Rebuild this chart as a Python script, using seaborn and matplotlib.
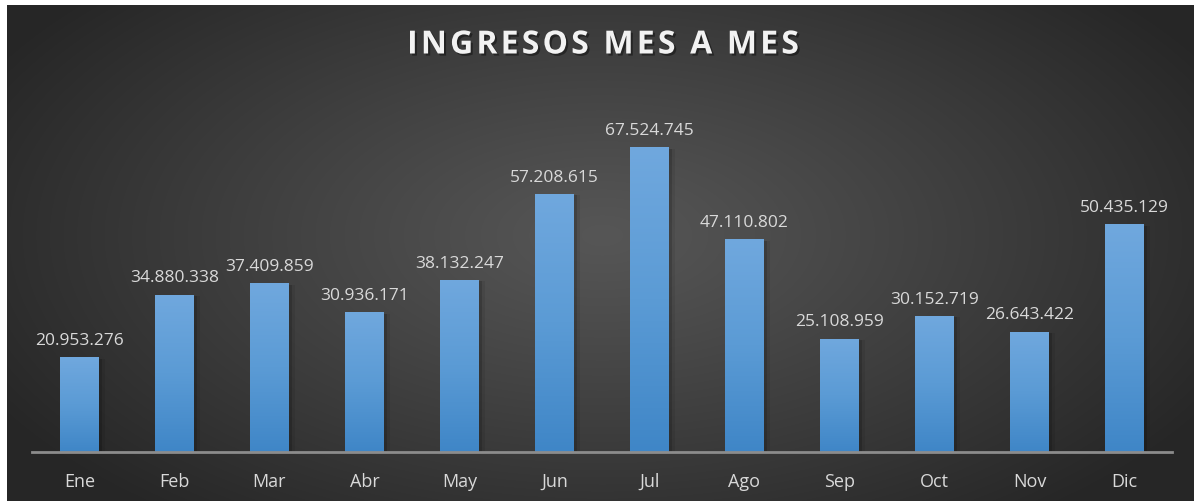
import numpy as np
import pandas as pd
import matplotlib
matplotlib.use("Agg")
import matplotlib.pyplot as plt
import matplotlib.patheffects as pe
from matplotlib.colors import LinearSegmentedColormap
import seaborn as sns

# data
meses = ["Ene", "Feb", "Mar", "Abr", "May", "Jun", "Jul", "Ago", "Sep", "Oct", "Nov", "Dic"]
ingresos = [20953276, 34880338, 37409859, 30936171, 38132247, 57208615,
            67524745, 47110802, 25108959, 30152719, 26643422, 50435129]
etiquetas = ["20.953.276", "34.880.338", "37.409.859", "30.936.171", "38.132.247", "57.208.615",
             "67.524.745", "47.110.802", "25.108.959", "30.152.719", "26.643.422", "50.435.129"]
titulo = "INGRESOS MES A MES"

df = pd.DataFrame({"mes": meses, "ingresos": ingresos})

sns.set_style("white")
plt.rcParams['font.family'] = ['Open Sans', 'DejaVu Sans']

W, H = 1194, 501
fig = plt.figure(figsize=(W / 100, H / 100), dpi=100)
fig.patch.set_facecolor("white")

# radial background
bg = fig.add_axes([7 / W, 0, 1 - 7 / W, 1 - 5 / H], zorder=0)
yy, xx = np.mgrid[0:496, 0:1187]
r = np.sqrt(((xx - 595) / 700.0) ** 2 + ((yy - 230) / 360.0) ** 2)
r = np.clip(r, 0, 1)
lum = (0x56 - (0x56 - 0x26) * r ** 1.1) / 255.0
bg.imshow(np.dstack([lum, lum, lum]), aspect="auto", interpolation="bilinear")
bg.axis("off")

ax = fig.add_axes([32 / W, 49 / H, 1140 / W, 361 / H], zorder=1)
ax.patch.set_alpha(0)
sns.barplot(data=df, x="mes", y="ingresos", color="#5b9bd5", width=0.41, ax=ax,
            saturation=1, linewidth=0, edgecolor="none")

cmap = LinearSegmentedColormap.from_list("azul", ["#3f86c7", "#5b9bd5", "#70a8de"])
grad = np.linspace(0, 1, 256).reshape(-1, 1)
for p in ax.patches:
    p.set_path_effects([pe.SimplePatchShadow(offset=(2, -1), shadow_rgbFace="black", alpha=0.15),
                        pe.SimplePatchShadow(offset=(4, -1), shadow_rgbFace="black", alpha=0.07),
                        pe.Normal()])
    x0, y0 = p.get_x(), p.get_y()
    im = ax.imshow(grad, cmap=cmap, origin="lower", aspect="auto", zorder=2,
                   extent=[x0, x0 + p.get_width(), y0, y0 + p.get_height()])
    im.set_clip_path(p)
ax.set_xlim(-0.5, 11.5)
ax.set_ylim(0, 80000000)

ax.bar_label(ax.containers[0], labels=etiquetas, padding=6, color="#d9d9d9", fontsize=12.5)

for s in ["top", "right", "left"]:
    ax.spines[s].set_visible(False)
ax.spines["bottom"].set_color("#8c8c8c")
ax.spines["bottom"].set_linewidth(2)
ax.spines["bottom"].set_zorder(3)
ax.set_yticks([])
ax.tick_params(axis="x", length=0, pad=15, labelsize=13, labelcolor="#d9d9d9")
ax.set_xlabel("")
ax.set_ylabel("")

fig.text(604 / W, 1 - 45 / H, "\u200a".join(titulo), ha="center", va="center",
         fontsize=23, fontweight="bold", color="#f2f2f2",
         path_effects=[pe.withSimplePatchShadow(offset=(1.5, -1.5), shadow_rgbFace="black", alpha=0.4)])

fig.savefig("out.png", dpi=100)
